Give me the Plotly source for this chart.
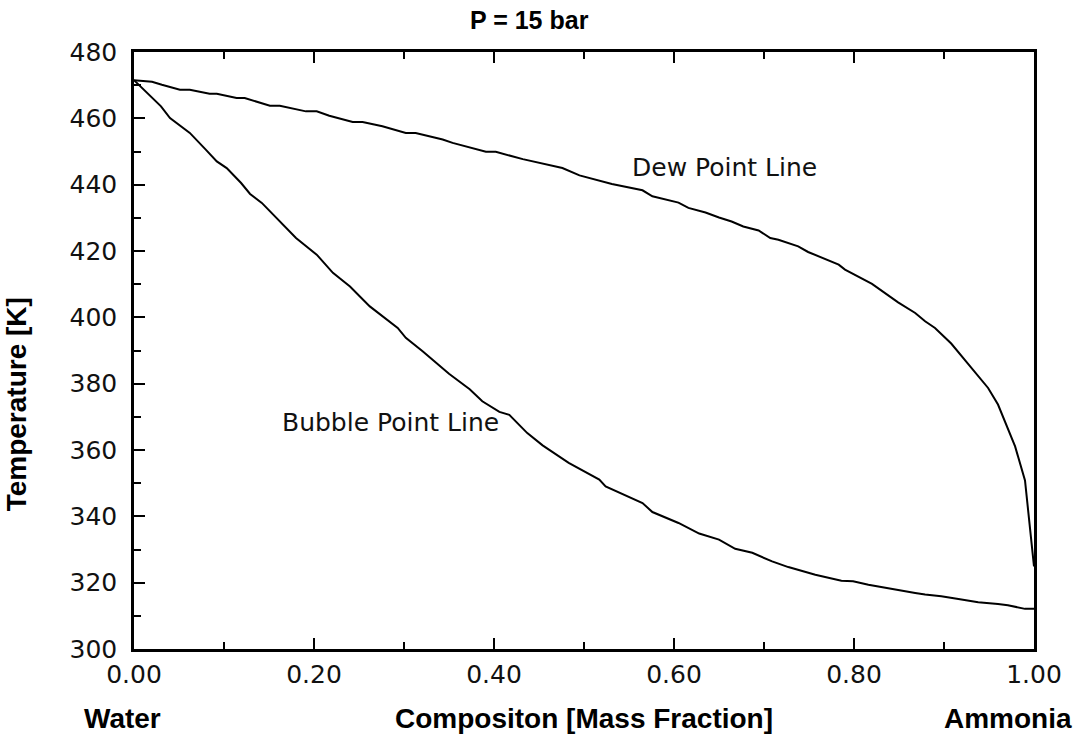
import plotly.graph_objects as go

# Dew point line (composition, temperature K)
dew_x = [0.0, 0.02, 0.031, 0.051, 0.062, 0.084, 0.092, 0.114, 0.123, 0.151, 0.162, 0.191,
         0.203, 0.217, 0.243, 0.254, 0.276, 0.302, 0.313, 0.343, 0.354, 0.391, 0.402, 0.432,
         0.476, 0.495, 0.531, 0.565, 0.576, 0.605, 0.616, 0.635, 0.650, 0.664, 0.677, 0.694,
         0.707, 0.716, 0.738, 0.749, 0.783, 0.790, 0.820, 0.831, 0.849, 0.868, 0.879, 0.890,
         0.908, 0.927, 0.949, 0.960, 0.979, 0.990, 1.0]
dew_t = [471.5, 471.0, 470.1, 468.6, 468.6, 467.4, 467.4, 466.1, 466.1, 463.8, 463.8, 462.1,
         462.1, 460.8, 458.9, 458.9, 457.6, 455.6, 455.6, 453.6, 452.6, 449.9, 449.9, 447.7,
         445.0, 442.8, 440.2, 438.3, 436.5, 434.6, 433.0, 431.6, 430.1, 428.9, 427.4, 426.2,
         423.9, 423.4, 421.4, 419.7, 415.9, 414.4, 410.1, 408.0, 404.5, 401.3, 398.8, 396.8,
         392.1, 385.9, 378.7, 373.7, 361.1, 350.8, 324.9]

# Bubble point line
bub_x = [0.0, 0.03, 0.04, 0.062, 0.08, 0.092, 0.103, 0.119, 0.129, 0.142, 0.180, 0.203,
         0.221, 0.240, 0.262, 0.293, 0.302, 0.321, 0.350, 0.373, 0.387, 0.406, 0.417, 0.437,
         0.454, 0.483, 0.517, 0.524, 0.565, 0.576, 0.605, 0.628, 0.650, 0.668, 0.687, 0.709,
         0.727, 0.757, 0.786, 0.799, 0.816, 0.849, 0.868, 0.879, 0.897, 0.916, 0.938, 0.960,
         0.971, 0.990, 1.0]
bub_t = [471.5, 463.6, 460.1, 455.6, 450.5, 447.0, 445.0, 440.5, 437.2, 434.5, 423.9, 418.9,
         413.4, 409.3, 403.3, 396.8, 393.8, 389.7, 383.0, 378.3, 374.7, 371.5, 370.6, 365.1,
         361.4, 356.1, 351.1, 349.0, 344.0, 341.3, 338.0, 334.8, 333.0, 330.2, 329.0, 326.4,
         324.7, 322.4, 320.6, 320.4, 319.4, 317.7, 316.9, 316.4, 315.9, 315.1, 314.1, 313.6,
         313.2, 312.1, 312.1]

x_ticks = [0.0, 0.2, 0.4, 0.6, 0.8, 1.0]
x_tick_labels = ["0.00", "0.20", "0.40", "0.60", "0.80", "1.00"]
y_ticks = [300, 320, 340, 360, 380, 400, 420, 440, 460, 480]

TICK_FONT = dict(family="DejaVu Sans, sans-serif", size=25, color="#111")
LABEL_FONT = dict(family="DejaVu Sans, sans-serif", size=25, color="#111")
BOLD_FONT = dict(family="Liberation Sans, Arial, sans-serif", size=28, color="black")

fig = go.Figure()
fig.add_trace(go.Scatter(x=dew_x, y=dew_t, mode="lines",
                         line=dict(color="black", width=2), showlegend=False))
fig.add_trace(go.Scatter(x=bub_x, y=bub_t, mode="lines",
                         line=dict(color="black", width=2), showlegend=False))

fig.update_layout(
    width=1074, height=741,
    margin=dict(l=134, r=38, t=52, b=92, pad=0),
    paper_bgcolor="white", plot_bgcolor="white",
    showlegend=False,
)

fig.update_xaxes(
    range=[0, 1], tickvals=x_ticks, ticktext=x_tick_labels,
    showgrid=False, zeroline=False,
    showline=True, linecolor="black", linewidth=2.5, mirror="ticks",
    ticks="inside", ticklen=11, tickwidth=2, tickcolor="black",
    minor=dict(dtick=0.1, ticks="inside", ticklen=7, tickwidth=2, tickcolor="black", showgrid=False),
    tickfont=TICK_FONT, ticklabelstandoff=1,
)
fig.update_yaxes(
    range=[300, 480], tickvals=y_ticks,
    showgrid=False, zeroline=False,
    showline=True, linecolor="black", linewidth=2.5, mirror=True,
    ticks="inside", ticklen=11, tickwidth=2, tickcolor="black",
    minor=dict(dtick=10, ticks="inside", ticklen=7, tickwidth=2, tickcolor="black", showgrid=False),
    tickfont=TICK_FONT, ticklabelstandoff=9,
)

annotations = [
    dict(text="<b>P = 15 bar</b>", xref="paper", yref="paper", x=0.439, y=1.0536,
         xanchor="center", yanchor="middle", showarrow=False,
         font=dict(family="Liberation Sans, Arial, sans-serif", size=25, color="black")),
    dict(text="<b>Compositon [Mass Fraction]</b>", xref="paper", yref="paper", x=0.5, y=-0.1156,
         xanchor="center", yanchor="middle", showarrow=False, font=BOLD_FONT),
    dict(text="<b>Water</b>", xref="paper", yref="paper", x=-0.0133, y=-0.1156,
         xanchor="center", yanchor="middle", showarrow=False, font=BOLD_FONT),
    dict(text="<b>Ammonia</b>", xref="paper", yref="paper", x=0.898, y=-0.1156,
         xanchor="left", yanchor="middle", showarrow=False, font=BOLD_FONT),
    dict(text="<b>Temperature [K]</b>", xref="paper", yref="paper", x=-0.1310, y=0.41,
         xanchor="center", yanchor="middle", textangle=-90, showarrow=False, font=BOLD_FONT),
    dict(text="Dew Point Line", xref="x", yref="y", x=0.551, y=445.1,
         xanchor="left", yanchor="middle", showarrow=False, font=LABEL_FONT),
    dict(text="Bubble Point Line", xref="x", yref="y", x=0.162, y=368.2,
         xanchor="left", yanchor="middle", showarrow=False, font=LABEL_FONT),
]
fig.update_layout(annotations=annotations)

fig.write_html("out.html")
